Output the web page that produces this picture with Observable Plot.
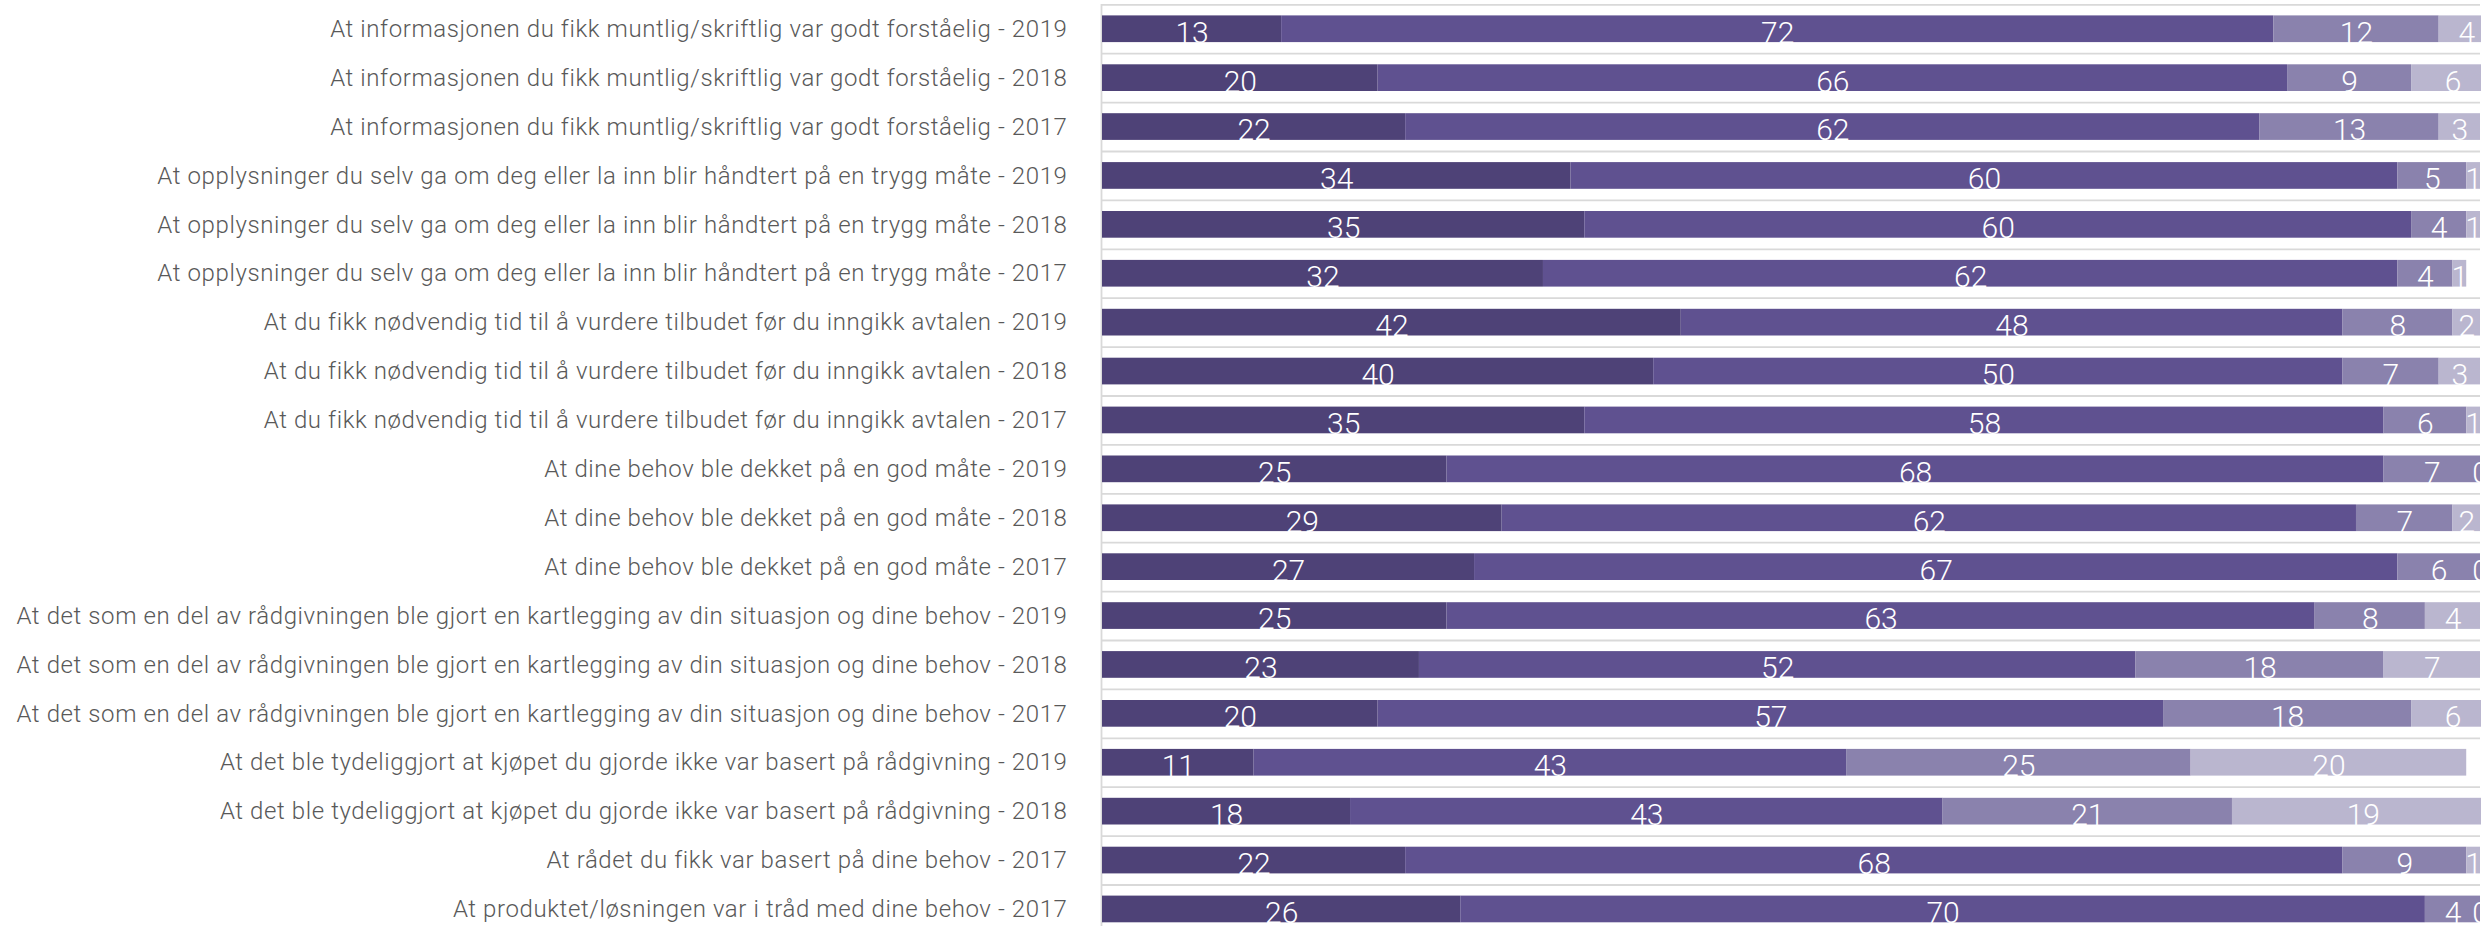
<!DOCTYPE html>
<html>
<head>
<meta charset="utf-8">
<script src="https://cdn.jsdelivr.net/npm/d3@7"></script>
<script src="https://cdn.jsdelivr.net/npm/@observablehq/plot@0.6"></script>
<style>
  html, body { margin: 0; padding: 0; background: #fff; overflow: hidden; }
  #chart svg { display: block; }
  #chart g[aria-label="y-axis tick label"] text { letter-spacing: 0.6px; }
</style>
</head>
<body>
<div id="chart"></div>
<script>
const labels = [
  "At informasjonen du fikk muntlig/skriftlig var godt forståelig - 2019",
  "At informasjonen du fikk muntlig/skriftlig var godt forståelig - 2018",
  "At informasjonen du fikk muntlig/skriftlig var godt forståelig - 2017",
  "At opplysninger du selv ga om deg eller la inn blir håndtert på en trygg måte - 2019",
  "At opplysninger du selv ga om deg eller la inn blir håndtert på en trygg måte - 2018",
  "At opplysninger du selv ga om deg eller la inn blir håndtert på en trygg måte - 2017",
  "At du fikk nødvendig tid til å vurdere tilbudet før du inngikk avtalen - 2019",
  "At du fikk nødvendig tid til å vurdere tilbudet før du inngikk avtalen - 2018",
  "At du fikk nødvendig tid til å vurdere tilbudet før du inngikk avtalen - 2017",
  "At dine behov ble dekket på en god måte - 2019",
  "At dine behov ble dekket på en god måte - 2018",
  "At dine behov ble dekket på en god måte - 2017",
  "At det som en del av rådgivningen ble gjort en kartlegging av din situasjon og dine behov - 2019",
  "At det som en del av rådgivningen ble gjort en kartlegging av din situasjon og dine behov - 2018",
  "At det som en del av rådgivningen ble gjort en kartlegging av din situasjon og dine behov - 2017",
  "At det ble tydeliggjort at kjøpet du gjorde ikke var basert på rådgivning - 2019",
  "At det ble tydeliggjort at kjøpet du gjorde ikke var basert på rådgivning - 2018",
  "At rådet du fikk var basert på dine behov - 2017",
  "At produktet/løsningen var i tråd med dine behov - 2017"
];
const seriesNames = ["s1", "s2", "s3", "s4"];
const s1 = [13, 20, 22, 34, 35, 32, 42, 40, 35, 25, 29, 27, 25, 23, 20, 11, 18, 22, 26];
const s2 = [72, 66, 62, 60, 60, 62, 48, 50, 58, 68, 62, 67, 63, 52, 57, 43, 43, 68, 70];
const s3 = [12,  9, 13,  5,  4,  4,  8,  7,  6,  7,  7,  6,  8, 18, 18, 25, 21,  9,  4];
const s4 = [ 4,  6,  3,  1,  1,  1,  2,  3,  1,  0,  2,  0,  4,  7,  6, 20, 19,  1,  0];
const seriesColors = ["#4e4277", "#5f5190", "#8a82ad", "#bab6cf"];

const seriesValues = [s1, s2, s3, s4];
const data = [];
labels.forEach((label, i) => {
  seriesValues.forEach((vals, k) => {
    data.push({label, series: seriesNames[k], value: vals[i]});
  });
});

const W = 2481, H = 926;
const step = 48.9;
const plot = Plot.plot({
  width: W,
  height: H,
  marginLeft: 1102,
  marginRight: 1,
  marginTop: 4,
  marginBottom: 0,
  style: {fontFamily: "Roboto, sans-serif", background: "#fff"},
  x: {domain: [0, 100], axis: null},
  y: {domain: labels, range: [4.3, 4.3 + step * labels.length], round: false, paddingInner: 0.454, paddingOuter: 0.227, label: null, tickSize: 0, tickPadding: 35},
  color: {domain: seriesNames, range: seriesColors},
  marks: [
    Plot.tickY(labels, {y: d => d, dy: -step / 2, stroke: "#d9d9d9", strokeWidth: 1.8}),
    Plot.ruleX([0], {dx: -1, stroke: "#d9d9d9", strokeWidth: 1.8}),
    Plot.barX(data, Plot.stackX({x: "value", y: "label", fill: "series", order: null})),
    Plot.text(data, Plot.stackX({x: "value", y: "label", text: d => String(d.value), order: null, fill: "white", fontSize: 30, fontWeight: 300, lineAnchor: "bottom", dy: 13.4})),
    Plot.axisY({tickSize: 0, tickPadding: 35, fontSize: 24, fontWeight: 300, fill: "#595959", label: null})
  ]
});
document.getElementById("chart").appendChild(plot);
</script>
</body>
</html>
